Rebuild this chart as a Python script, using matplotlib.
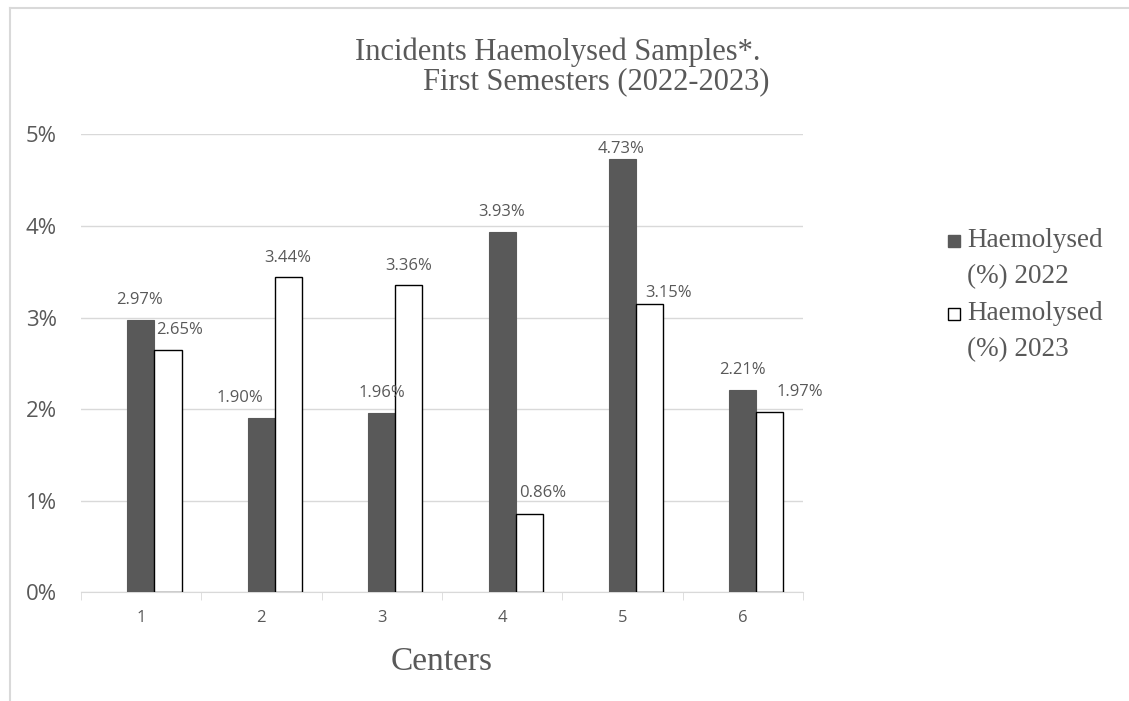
import matplotlib.pyplot as plt
from matplotlib.lines import Line2D
from matplotlib.patches import Rectangle
import numpy as np

centers = ['1', '2', '3', '4', '5', '6']
h2022 = [2.97, 1.90, 1.96, 3.93, 4.73, 2.21]
h2023 = [2.65, 3.44, 3.36, 0.86, 3.15, 1.97]
series_names = ['Haemolysed\n(%) 2022', 'Haemolysed\n(%) 2023']
yticks = [0, 1, 2, 3, 4, 5]

# hand placed label nudges (pixels), as in the original chart
dx22 = [-1, -21, 0, 0, -1, 0]
dy22 = [16, 16, 16, 16, 6, 16]
dx23 = [12, -1, 0, 14, 19, 30]
dy23 = [16, 15, 15, 17, 7, 16]

W, H = 1129, 701
serif = 'Liberation Serif'
sans = 'Open Sans'
txt = '#595959'
dark = '#595959'

fig = plt.figure(figsize=(W / 100, H / 100), dpi=100)
ax = fig.add_axes([0.0715, 0.155, 0.6398, 0.6533])

x = np.arange(len(centers))
w = 0.225
ax.bar(x, h2022, w, color=dark, edgecolor=dark, linewidth=0.8, zorder=3)
ax.bar(x + w, h2023, w, color='white', edgecolor='black', linewidth=1.0, zorder=3)

for xi, v, dx, dy in zip(x, h2022, dx22, dy22):
    ax.annotate(f'{v:.2f}%', (xi, v), xytext=(dx, dy), textcoords='offset pixels',
                ha='center', va='baseline', fontsize=12, color=txt, family=sans, zorder=5)
for xi, v, dx, dy in zip(x + w, h2023, dx23, dy23):
    ax.annotate(f'{v:.2f}%', (xi, v), xytext=(dx, dy), textcoords='offset pixels',
                ha='center', va='baseline', fontsize=12, color=txt, family=sans, zorder=5)

ax.set_xlim(-0.5, 5.5)
ax.set_ylim(0, 5)
ax.set_yticks(yticks)
ax.set_yticklabels([f'{t}%' for t in yticks], fontsize=16, color=txt, family=sans)
ax.set_xticks(x)
ax.set_xticklabels(centers, fontsize=12, color=txt, family=sans)
ax.tick_params(axis='x', length=0, pad=13)
ax.tick_params(axis='y', length=0, pad=17)
# category separators along the axis
ax.set_xticks(np.arange(-0.5, 6, 1), minor=True)
ax.tick_params(axis='x', which='minor', length=6, color='#d9d9d9', direction='out')

ax.grid(axis='y', color='#d9d9d9', linewidth=1, zorder=0)
for s in ['top', 'right', 'left']:
    ax.spines[s].set_visible(False)
ax.spines['bottom'].set_color('#d9d9d9')

fig.text(442 / W, 1 - 670 / H, 'Centers', ha='center', va='baseline',
         fontsize=24, color=txt, family=serif)
fig.text(558 / W, 1 - 60 / H, 'Incidents Haemolysed Samples*.', ha='center', va='baseline',
         fontsize=22, color=txt, family=serif)
fig.text(596 / W, 1 - 89 / H, 'First Semesters (2022-2023)', ha='center', va='baseline',
         fontsize=22, color=txt, family=serif)

# legend, laid out like the original
styles = [dict(facecolor=dark, edgecolor=dark), dict(facecolor='white', edgecolor='black')]
for i, (name, st) in enumerate(zip(series_names, styles)):
    top = 235 + 73 * i
    fig.add_artist(Rectangle((948 / W, 1 - (top + 12) / H), 12 / W, 12 / H,
                             transform=fig.transFigure, linewidth=1, **st))
    line1, line2 = name.split('\n')
    fig.text(967 / W, 1 - (247 + 73 * i) / H, line1, ha='left', va='baseline',
             fontsize=19.5, color=txt, family=serif)
    fig.text(967 / W, 1 - (283 + 73 * i) / H, line2, ha='left', va='baseline',
             fontsize=19.5, color=txt, family=serif)

# light border of the chart area
fig.add_artist(Line2D([0.009, 1.0], [0.988, 0.988], color='#d9d9d9', linewidth=1.5))
fig.add_artist(Line2D([0.009, 0.009], [0.0, 0.988], color='#d9d9d9', linewidth=1.5))

fig.savefig('out.png', dpi=100)
